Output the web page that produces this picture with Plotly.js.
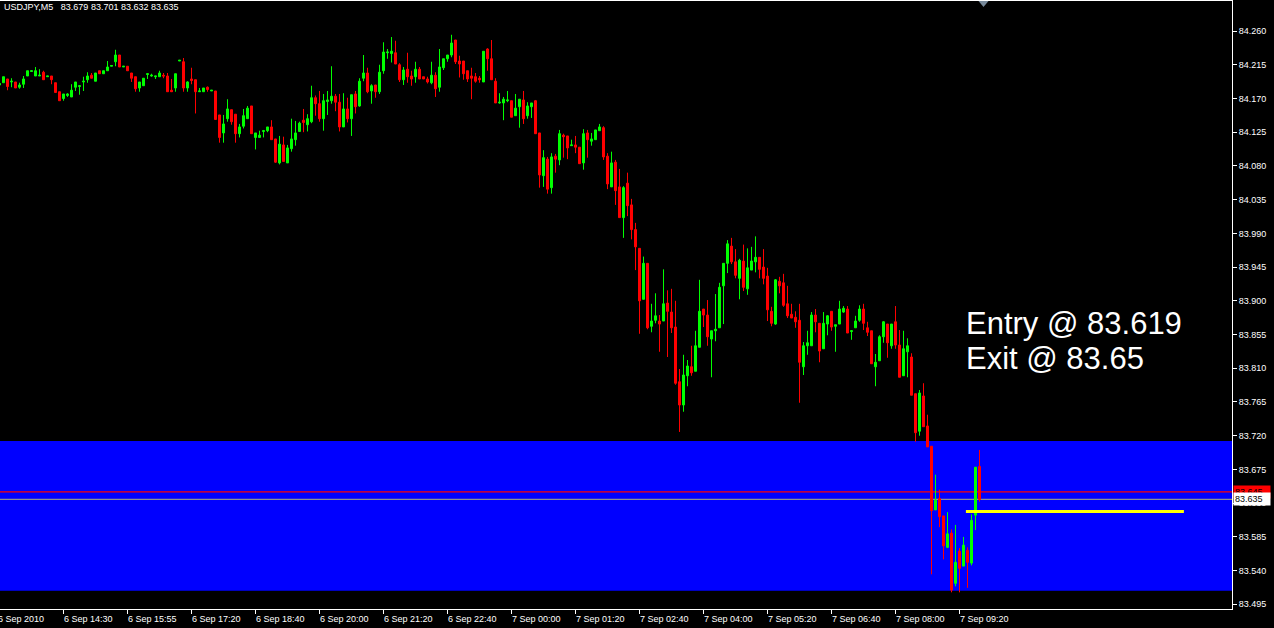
<!DOCTYPE html>
<html><head><meta charset="utf-8">
<script src="https://cdn.plot.ly/plotly-3.0.1.min.js"></script>
<style>html,body{margin:0;padding:0;background:#000;overflow:hidden}#chart{width:1274px;height:628px}</style>
</head><body><div id="chart"></div>
<script>
// ---- data (USDJPY M5, bars indexed from the left edge; first bar index -1) ----
const symbolLabel = 'USDJPY,M5';
const lastOHLC = [83.679, 83.701, 83.632, 83.635];

const openP = [
84.188,84.191,84.196,84.192,84.192,84.185,84.189,84.200,84.206,84.200,
84.200,84.205,84.199,84.200,84.191,84.179,84.170,84.174,84.172,84.185,
84.186,84.192,84.195,84.201,84.193,84.207,84.203,84.207,84.213,84.219,
84.228,84.212,84.213,84.204,84.199,84.184,84.187,84.202,84.200,84.199,
84.199,84.201,84.200,84.181,84.184,84.220,84.219,84.184,84.196,84.195,
84.179,84.179,84.185,84.180,84.180,84.148,84.124,84.143,84.155,84.149,
84.123,84.133,84.143,84.160,84.118,84.118,84.126,84.127,84.132,84.116,
84.084,84.108,84.084,84.103,84.115,84.126,84.141,84.135,84.139,84.171,
84.163,84.143,84.166,84.167,84.173,84.165,84.132,84.156,84.143,84.176,
84.160,84.197,84.204,84.180,84.188,84.179,84.207,84.231,84.230,84.231,
84.215,84.195,84.209,84.200,84.199,84.209,84.199,84.196,84.191,84.201,
84.185,84.211,84.223,84.228,84.248,84.220,84.220,84.207,84.200,84.199,
84.197,84.192,84.236,84.223,84.193,84.164,84.164,84.167,84.167,84.147,
84.159,84.168,84.147,84.159,84.167,84.124,84.067,84.089,84.051,84.093,
84.088,84.121,84.120,84.107,84.108,84.105,84.084,84.124,84.113,84.115,
84.127,84.131,84.093,84.052,84.085,84.052,84.011,84.057,84.028,83.995,
83.970,83.902,83.950,83.866,83.874,83.873,83.873,83.897,83.885,83.865,
83.792,83.761,83.800,83.812,83.806,83.838,83.889,83.881,83.849,83.860,
83.864,83.920,83.950,83.973,83.952,83.930,83.953,83.916,83.941,83.952,
83.958,83.945,83.933,83.886,83.869,83.926,83.924,83.896,83.882,83.878,
83.874,83.812,83.840,83.840,83.881,83.870,83.836,83.869,83.886,83.866,
83.869,83.885,83.889,83.859,83.864,83.874,83.889,83.864,83.860,83.812,
83.820,83.852,83.869,83.840,83.872,83.841,83.800,83.832,83.825,83.776,
83.726,83.773,83.733,83.706,83.621,83.636,83.613,83.571,83.590,83.523,
83.566,83.546,83.567,83.550,83.614,83.679];

const highP = [
84.190,84.199,84.196,84.197,84.192,84.191,84.200,84.207,84.207,84.212,
84.209,84.207,84.200,84.200,84.191,84.179,84.176,84.177,84.189,84.192,
84.187,84.199,84.205,84.204,84.204,84.207,84.207,84.220,84.214,84.235,
84.228,84.213,84.213,84.204,84.199,84.192,84.197,84.203,84.203,84.200,
84.207,84.204,84.204,84.196,84.203,84.221,84.224,84.193,84.211,84.195,
84.184,84.184,84.186,84.181,84.180,84.148,84.148,84.169,84.155,84.149,
84.136,84.156,84.160,84.160,84.124,84.127,84.128,84.132,84.141,84.116,
84.120,84.119,84.108,84.143,84.140,84.139,84.156,84.149,84.187,84.174,
84.180,84.176,84.180,84.213,84.176,84.176,84.177,84.171,84.175,84.180,
84.197,84.228,84.211,84.189,84.188,84.215,84.245,84.236,84.252,84.247,
84.217,84.212,84.231,84.207,84.219,84.212,84.199,84.199,84.219,84.205,
84.236,84.223,84.228,84.255,84.248,84.227,84.220,84.207,84.211,84.204,
84.200,84.233,84.237,84.248,84.197,84.177,84.172,84.180,84.167,84.176,
84.169,84.180,84.165,84.164,84.168,84.124,84.101,84.092,84.097,84.096,
84.128,84.123,84.120,84.115,84.120,84.105,84.129,84.128,84.124,84.128,
84.136,84.133,84.097,84.099,84.088,84.076,84.053,84.071,84.036,84.004,
83.970,83.959,83.950,83.896,83.910,83.881,83.942,83.914,83.916,83.900,
83.809,83.828,83.821,83.840,83.860,83.928,83.889,83.901,83.860,83.909,
83.924,83.950,83.981,83.984,83.969,83.956,83.975,83.970,83.972,83.986,
83.958,83.969,83.944,83.892,83.929,83.932,83.936,83.920,83.896,83.886,
83.896,83.845,83.860,83.885,83.889,83.870,83.885,83.881,83.886,83.868,
83.900,83.893,83.893,83.861,83.880,83.894,83.896,83.872,83.860,83.829,
83.854,83.873,83.869,83.869,83.893,83.861,83.860,83.850,83.830,83.776,
83.781,83.790,83.748,83.706,83.668,83.648,83.613,83.618,83.595,83.601,
83.570,83.585,83.571,83.615,83.678,83.701];

const lowP = [
84.188,84.191,84.181,84.185,84.184,84.183,84.184,84.200,84.206,84.200,
84.200,84.195,84.199,84.189,84.178,84.167,84.167,84.172,84.172,84.180,
84.175,84.180,84.191,84.197,84.193,84.203,84.203,84.207,84.213,84.213,
84.212,84.212,84.207,84.192,84.179,84.179,84.187,84.196,84.199,84.196,
84.199,84.197,84.179,84.179,84.179,84.220,84.179,84.179,84.189,84.150,
84.179,84.179,84.179,84.180,84.142,84.111,84.111,84.139,84.135,84.111,
84.118,84.130,84.143,84.123,84.102,84.118,84.118,84.125,84.115,84.084,
84.082,84.086,84.084,84.099,84.107,84.126,84.125,84.126,84.137,84.147,
84.139,84.127,84.148,84.163,84.153,84.126,84.132,84.138,84.120,84.150,
84.159,84.193,84.177,84.163,84.171,84.176,84.203,84.223,84.218,84.216,
84.192,84.188,84.191,84.187,84.191,84.196,84.196,84.190,84.189,84.172,
84.179,84.208,84.219,84.225,84.216,84.198,84.195,84.192,84.169,84.191,
84.191,84.192,84.207,84.195,84.164,84.163,84.141,84.165,84.145,84.147,
84.131,84.136,84.143,84.144,84.123,84.051,84.052,84.043,84.043,84.071,
84.081,84.091,84.089,84.107,84.097,84.083,84.075,84.091,84.107,84.115,
84.127,84.088,84.049,84.052,84.028,84.011,83.984,84.013,83.982,83.941,
83.856,83.902,83.862,83.858,83.870,83.832,83.873,83.825,83.857,83.788,
83.725,83.752,83.786,83.800,83.806,83.838,83.865,83.840,83.798,83.846,
83.864,83.869,83.937,83.949,83.930,83.902,83.913,83.908,83.941,83.938,
83.930,83.922,83.873,83.866,83.868,83.910,83.892,83.877,83.877,83.864,
83.764,83.801,83.828,83.840,83.858,83.818,83.836,83.854,83.860,83.832,
83.869,83.884,83.857,83.848,83.864,83.872,83.861,83.853,83.816,83.786,
83.820,83.844,83.824,83.836,83.836,83.798,83.800,83.798,83.774,83.712,
83.720,83.732,83.705,83.535,83.621,83.598,83.555,83.570,83.511,83.519,
83.511,83.546,83.517,83.547,83.594,83.632];

const closeP = [
84.190,84.199,84.186,84.193,84.184,84.188,84.196,84.207,84.207,84.207,
84.201,84.195,84.200,84.195,84.178,84.167,84.176,84.176,84.181,84.192,
84.187,84.193,84.200,84.197,84.204,84.203,84.207,84.212,84.214,84.228,
84.212,84.213,84.207,84.197,84.183,84.192,84.197,84.203,84.201,84.200,
84.204,84.200,84.179,84.179,84.203,84.221,84.184,84.192,84.194,84.179,
84.180,84.184,84.182,84.181,84.142,84.118,84.136,84.156,84.139,84.123,
84.132,84.147,84.157,84.123,84.124,84.121,84.127,84.132,84.115,84.085,
84.109,84.086,84.104,84.116,84.124,84.137,84.138,84.143,84.171,84.163,
84.143,84.167,84.168,84.173,84.165,84.132,84.156,84.143,84.175,84.159,
84.193,84.204,84.179,84.187,84.179,84.205,84.232,84.232,84.233,84.216,
84.195,84.208,84.199,84.196,84.209,84.196,84.196,84.192,84.201,84.183,
84.212,84.223,84.228,84.244,84.219,84.216,84.203,84.196,84.197,84.193,
84.195,84.233,84.223,84.195,84.164,84.165,84.169,84.168,84.145,84.157,
84.169,84.143,84.160,84.164,84.123,84.068,84.091,84.049,84.092,84.089,
84.123,84.119,84.104,84.108,84.105,84.083,84.123,84.115,84.116,84.128,
84.132,84.092,84.056,84.084,84.047,84.011,84.051,84.027,83.995,83.972,
83.900,83.950,83.864,83.873,83.880,83.869,83.896,83.886,83.864,83.790,
83.761,83.801,83.813,83.804,83.840,83.886,83.881,83.852,83.860,83.862,
83.918,83.950,83.976,83.952,83.934,83.954,83.918,83.944,83.953,83.958,
83.942,83.930,83.888,83.870,83.928,83.920,83.894,83.880,83.877,83.872,
83.818,83.840,83.844,83.881,83.872,83.833,83.870,83.880,83.865,83.868,
83.889,83.890,83.857,83.860,83.873,83.889,83.870,83.858,83.816,83.818,
83.852,83.872,83.844,83.869,83.841,83.798,83.836,83.840,83.774,83.724,
83.777,83.732,83.705,83.620,83.634,83.612,83.573,83.589,83.514,83.551,
83.543,83.574,83.551,83.607,83.678,83.635];

// time-axis tick labels (bar index of each labelled bar)
const timeTickIdx = [15,31,47,63,79,95,111,127,143,159,175,191,207,223,239];
const timeTickText = ['6 Sep 14:30','6 Sep 15:55','6 Sep 17:20','6 Sep 18:40','6 Sep 20:00',
  '6 Sep 21:20','6 Sep 22:40','7 Sep 00:00','7 Sep 01:20','7 Sep 02:40','7 Sep 04:00',
  '7 Sep 05:20','7 Sep 06:40','7 Sep 08:00','7 Sep 09:20'];
const firstDateLabel = '6 Sep 2010';

// price scale ticks
const priceTicks = [83.495,83.540,83.585,83.630,83.675,83.720,83.765,83.810,83.855,
  83.900,83.945,83.990,84.035,84.080,84.125,84.170,84.215,84.260];

// levels / zone / trade
const zoneLow = 83.513, zoneHigh = 83.713;
const exitLevel = 83.645;
const bidLevel = 83.635;
const entryPrice = 83.619;
const entryBarStart = 240.6, entryBarEnd = 295.1;
const shiftMarkerBar = 245;
const noteLines = ['Entry @ 83.619', 'Exit @ 83.65'];
const notePrices = [83.870, 83.823];

// ---- chart ----
const FONT = 'Liberation Sans, Arial, sans-serif';
const xIdx = openP.map((_, i) => i - 1);

const trace = {
  type: 'candlestick', x: xIdx, open: openP, high: highP, low: lowP, close: closeP,
  increasing: {line: {color: '#00ff00', width: 1}, fillcolor: '#00ff00'},
  decreasing: {line: {color: '#ff0000', width: 1}, fillcolor: '#ff0000'},
  whiskerwidth: 0, hoverinfo: 'skip', showlegend: false
};

const annotations = [];
annotations.push({xref: 'paper', yref: 'paper', x: 0, y: 0.9903, xanchor: 'left', yanchor: 'middle', xshift: 2,
  text: symbolLabel + '\u00a0\u00a0\u00a0' + lastOHLC.map(v => v.toFixed(3)).join(' '),
  showarrow: false, font: {family: FONT, size: 9, color: '#ffffff'}});
annotations.push({xref: 'paper', yref: 'paper', x: 0, y: -0.0163, xanchor: 'left', yanchor: 'middle', xshift: -4,
  text: firstDateLabel, showarrow: false, font: {family: FONT, size: 9, color: '#ffffff'}});
timeTickIdx.forEach((k, i) => annotations.push({xref: 'x', yref: 'paper', x: k, y: -0.0163,
  xanchor: 'left', yanchor: 'middle', xshift: -2, text: timeTickText[i], showarrow: false,
  font: {family: FONT, size: 9, color: '#ffffff'}}));
noteLines.forEach((t, i) => annotations.push({xref: 'x', yref: 'y', x: entryBarStart, y: notePrices[i],
  xanchor: 'left', yanchor: 'middle', xshift: -2, text: t, showarrow: false,
  font: {family: FONT, size: 31, color: '#ffffff'}}));
annotations.push({xref: 'paper', yref: 'y', x: 1, y: exitLevel, xanchor: 'left', yanchor: 'middle', xshift: 1,
  text: exitLevel.toFixed(3), showarrow: false, bgcolor: '#ff0000', borderpad: 1, width: 34, align: 'left',
  font: {family: FONT, size: 9, color: '#000000'}});
annotations.push({xref: 'paper', yref: 'y', x: 1, y: bidLevel, xanchor: 'left', yanchor: 'middle', xshift: 1,
  text: bidLevel.toFixed(3), showarrow: false, bgcolor: '#ffffff', borderpad: 1, width: 34, align: 'left',
  font: {family: FONT, size: 9, color: '#000000'}});

const shapes = [
  {type: 'rect', xref: 'paper', yref: 'y', x0: 0, x1: 1, y0: zoneLow, y1: zoneHigh,
   fillcolor: '#0000ff', line: {width: 0}, layer: 'below'},
  {type: 'line', xref: 'paper', yref: 'y', x0: 0, x1: 1, y0: exitLevel, y1: exitLevel,
   line: {color: '#ff0000', width: 1.4}, layer: 'below'},
  {type: 'line', xref: 'paper', yref: 'y', x0: 0, x1: 1, y0: bidLevel, y1: bidLevel,
   line: {color: '#909090', width: 1.2}, layer: 'below'},
  {type: 'line', xref: 'x', yref: 'y', x0: entryBarStart, x1: entryBarEnd, y0: entryPrice, y1: entryPrice,
   line: {color: '#ffff00', width: 3}, layer: 'above'},
  {type: 'path', xref: 'x', yref: 'paper',
   path: `M ${shiftMarkerBar - 1.25},1 L ${shiftMarkerBar + 1.25},1 L ${shiftMarkerBar},0.9901 Z`,
   fillcolor: '#778899', line: {width: 0}, layer: 'above'}
];

const layout = {
  width: 1274, height: 628,
  paper_bgcolor: '#000000', plot_bgcolor: '#000000',
  margin: {l: 0, r: 42, t: 1, b: 19, pad: 0},
  showlegend: false, hovermode: false,
  boxgap: 0.5, boxgroupgap: 0,
  xaxis: {range: [-0.875, 307.125], showgrid: false, zeroline: false,
    rangeslider: {visible: false}, showline: true, linecolor: '#ffffff', linewidth: 1, mirror: true,
    ticks: 'outside', ticklen: 4, tickcolor: '#ffffff', tickwidth: 1,
    tickmode: 'array', tickvals: timeTickIdx, showticklabels: false, fixedrange: true},
  yaxis: {side: 'right', range: [83.48875, 84.30006], showgrid: false, zeroline: false,
    showline: true, linecolor: '#ffffff', linewidth: 1,
    ticks: 'outside', ticklen: 4, tickcolor: '#ffffff', tickwidth: 1,
    tickmode: 'array', tickvals: priceTicks, ticktext: priceTicks.map(v => v.toFixed(3)),
    tickfont: {family: FONT, size: 9, color: '#ffffff'}, fixedrange: true},
  shapes: shapes,
  annotations: annotations
};

Plotly.newPlot('chart', [trace], layout, {staticPlot: true, displayModeBar: false});
</script>
</body></html>
